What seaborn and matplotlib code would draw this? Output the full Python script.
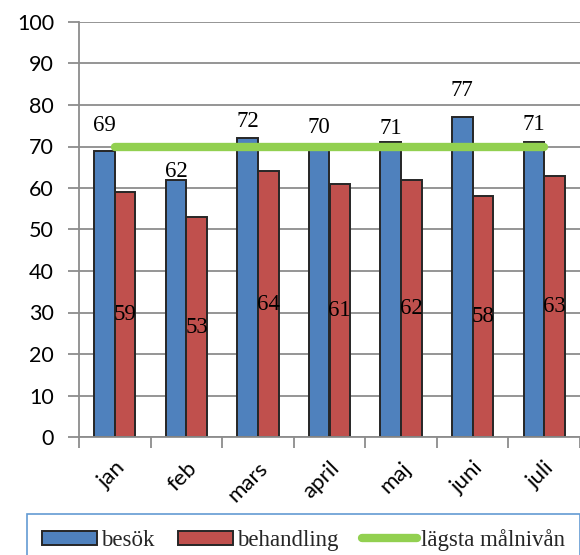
import matplotlib
matplotlib.use("Agg")
import matplotlib.pyplot as plt
import seaborn as sns
import pandas as pd
from matplotlib.patches import Patch
from matplotlib.lines import Line2D

# Monthly figures
months = ["jan", "feb", "mars", "april", "maj", "juni", "juli"]
besok = [69, 62, 72, 70, 71, 77, 71]
behandling = [59, 53, 64, 61, 62, 58, 63]
malniva = [70, 70, 70, 70, 70, 70, 70]
yticks = [0, 10, 20, 30, 40, 50, 60, 70, 80, 90, 100]

# Label placement for the "besök" values (pixels above each bar top)
besok_label_lift = [25, 8, 17, 19, 14, 27, 18]

BLUE = "#4F81BD"
RED = "#C0504D"
GREEN = "#92D050"
GRID = "#8C8C8C"
EDGE = "#262626"

sns.set_theme(style="white")
plt.rcParams["font.family"] = ["Lato", "DejaVu Sans"]

df = pd.DataFrame({
    "month": months * 2,
    "value": besok + behandling,
    "serie": ["besök"] * len(months) + ["behandling"] * len(months),
})

fig = plt.figure(figsize=(5.8, 5.55), dpi=100)
ax = fig.add_axes([79 / 580, 1 - 437 / 555, 1 - 79 / 580, (437 - 22) / 555])

sns.barplot(data=df, x="month", y="value", hue="serie", order=months,
            hue_order=["besök", "behandling"], palette=[BLUE, RED],
            saturation=1, width=0.575, gap=0, edgecolor=EDGE, linewidth=1.4,
            legend=False, ax=ax, zorder=3)

sns.lineplot(x=list(range(len(months))), y=malniva, color=GREEN, linewidth=6,
             solid_capstyle="round", ax=ax, zorder=5, legend=False)

ax.set_xlim(-0.5, len(months) - 0.5)
ax.set_ylim(0, 100)
ax.set_yticks(yticks)
ax.set_xlabel("")
ax.set_ylabel("")

# gridlines and axes
ax.grid(axis="y", color=GRID, linewidth=1.3, zorder=0)
ax.set_axisbelow(True)
for side in ["top", "right"]:
    ax.spines[side].set_visible(False)
for side in ["left", "bottom"]:
    ax.spines[side].set_color(GRID)
    ax.spines[side].set_linewidth(1.3)
    ax.spines[side].set_zorder(4)

ax.tick_params(axis="y", which="major", direction="out", length=8, width=1.3,
               color=GRID, labelsize=15.5, pad=10, left=True)
ax.set_xticks(range(len(months)))
ax.set_xticklabels(months, rotation=45, ha="right", rotation_mode="anchor")
ax.tick_params(axis="x", which="major", length=0, labelsize=16, pad=15)
ax.set_xticks([i - 0.5 for i in range(len(months) + 1)], minor=True)
ax.tick_params(axis="x", which="minor", direction="out", length=8, width=1.3,
               color=GRID, bottom=True)
for lab in ax.get_yticklabels() + ax.get_xticklabels():
    lab.set_color("#000000")

# value labels
bars = ax.patches
blue_bars = [b for b in bars if b.get_height() > 0][:len(months)]
red_bars = [b for b in bars if b.get_height() > 0][len(months):2 * len(months)]
serif = ["Liberation Serif", "DejaVu Serif"]
for bar, val, lift in zip(blue_bars, besok, besok_label_lift):
    ax.annotate(f"{val}", (bar.get_x() + bar.get_width() / 2, val),
                xytext=(0, lift), textcoords="offset pixels",
                ha="center", va="center", fontsize=16.5, family=serif,
                color="#000000", zorder=6)
for bar, val in zip(red_bars, behandling):
    ax.text(bar.get_x() + bar.get_width() / 2, val / 2, f"{val}",
            ha="center", va="center", fontsize=16.5, family=serif,
            color="#000000", zorder=6)

handles = [
    Patch(facecolor=BLUE, edgecolor=EDGE, linewidth=1.4),
    Patch(facecolor=RED, edgecolor=EDGE, linewidth=1.4),
    Line2D([0], [0], color=GREEN, linewidth=6, solid_capstyle="round"),
]
leg = fig.legend(handles, ["besök", "behandling", "lägsta målnivån"],
                 loc="upper left", bbox_to_anchor=(27 / 580, 1 - 514 / 555),
                 ncol=3, prop={"family": serif, "size": 16.5},
                 handlelength=2.4, handleheight=0.55, handletextpad=0.2,
                 columnspacing=1.0, borderpad=0.65, borderaxespad=0,
                 frameon=True, fancybox=False)
leg.get_frame().set_edgecolor("#3C82C8")
leg.get_frame().set_linewidth(1.2)

fig.savefig("out.png", dpi=100)
